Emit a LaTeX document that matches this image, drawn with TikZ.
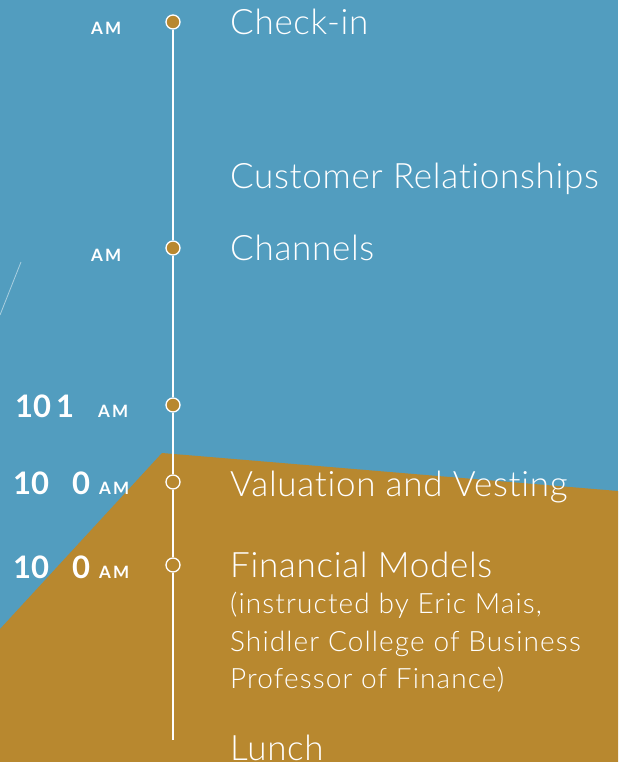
\documentclass[tikz,border=0pt]{standalone}
\usepackage{fontspec}
\setmainfont{Lato}
\newfontfamily\lightfont{Lato-Light.ttf}[Ligatures = NoCommon]
\usetikzlibrary{positioning}
\definecolor{skyblue}{RGB}{82, 157, 191}
\definecolor{ochre}{RGB}{184, 136, 47}
\tikzset{
	tdot/.style = {circle, draw = white, line width = 1.3pt, fill = ochre, inner sep = 0pt, minimum size = 14pt},
	title/.style = {anchor = base west, inner sep = 0pt, text = white, font = \lightfont\addfontfeature{LetterSpace = 2}\fontsize{35}{40}\selectfont},
	note/.style = {anchor = base west, inner sep = 0pt, text = white, font = \lightfont\addfontfeature{LetterSpace = 4}\fontsize{28}{34}\selectfont},
	hour/.style = {anchor = base west, inner sep = 0pt, text = white, font = \bfseries\fontsize{31}{36}\selectfont},
	ampm/.style = {anchor = base west, inner sep = 0pt, text = white, font = \bfseries\addfontfeature{LetterSpace = 12}\fontsize{17}{20}\selectfont}
}

\begin{document}
\begin{tikzpicture}[x = 1pt, y = -1pt]
			\useasboundingbox (0,0) rectangle (618,762);
			\fill[skyblue] (0,0) rectangle (618,762);
			\fill[ochre] (0,629) -- (162,453) -- (618,491) -- (618,762) -- (0,762) -- cycle;
			\draw[white, opacity = 0.5, line width = 0.8pt] (21,262) -- (0,315);
			% timeline
			\node (a) at (173,22) [tdot] {};
			\node (b) at (173,248) [tdot] {};
			\node (c) at (173,405) [tdot] {};
			\node (d) at (173,482) [tdot] {};
			\node (e) at (173,565) [tdot] {};
			\coordinate (f) at (173,740);
			\draw[white, line width = 1.4pt] (a) -- (b) -- (c) -- (d) -- (e) -- (f);
			% times
			\node (ta) at (91,35) [ampm] {AM};
			\node (tb) at (91,261) [ampm] {AM};
			\node (hc) at (15,417) [hour] {10};
			\node (mc) at (56,417) [hour] {1};
			\node (tc) at (98,417) [ampm] {AM};
			\node (hd) at (13,494) [hour] {10};
			\node (md) at (72,494) [hour] {0};
			\node (td) at (99,494) [ampm] {AM};
			\node (he) at (13,578) [hour] {10};
			\node (me) at (72,578) [hour] {0};
			\node (te) at (99,578) [ampm] {AM};
			% sessions
			\node (la) at (230,35) [title] {Check-in};
			\node (lab) at (230,188) [title] {Customer Relationships};
			\node (lb) at (230,260) [title] {Channels};
			\node (ld) at (230,496) [title] {Valuation and Vesting};
			\node (le) at (230,577) [title] {Financial Models};
			\node (ne1) at (230,613) [note] {(instructed by Eric Mais,};
			\node (ne2) at (230,651) [note] {Shidler College of Business};
			\node (ne3) at (230,688) [note] {Professor of Finance)};
			\node (lf) at (230,760) [title] {Lunch};
			\end{tikzpicture}
\end{document}
